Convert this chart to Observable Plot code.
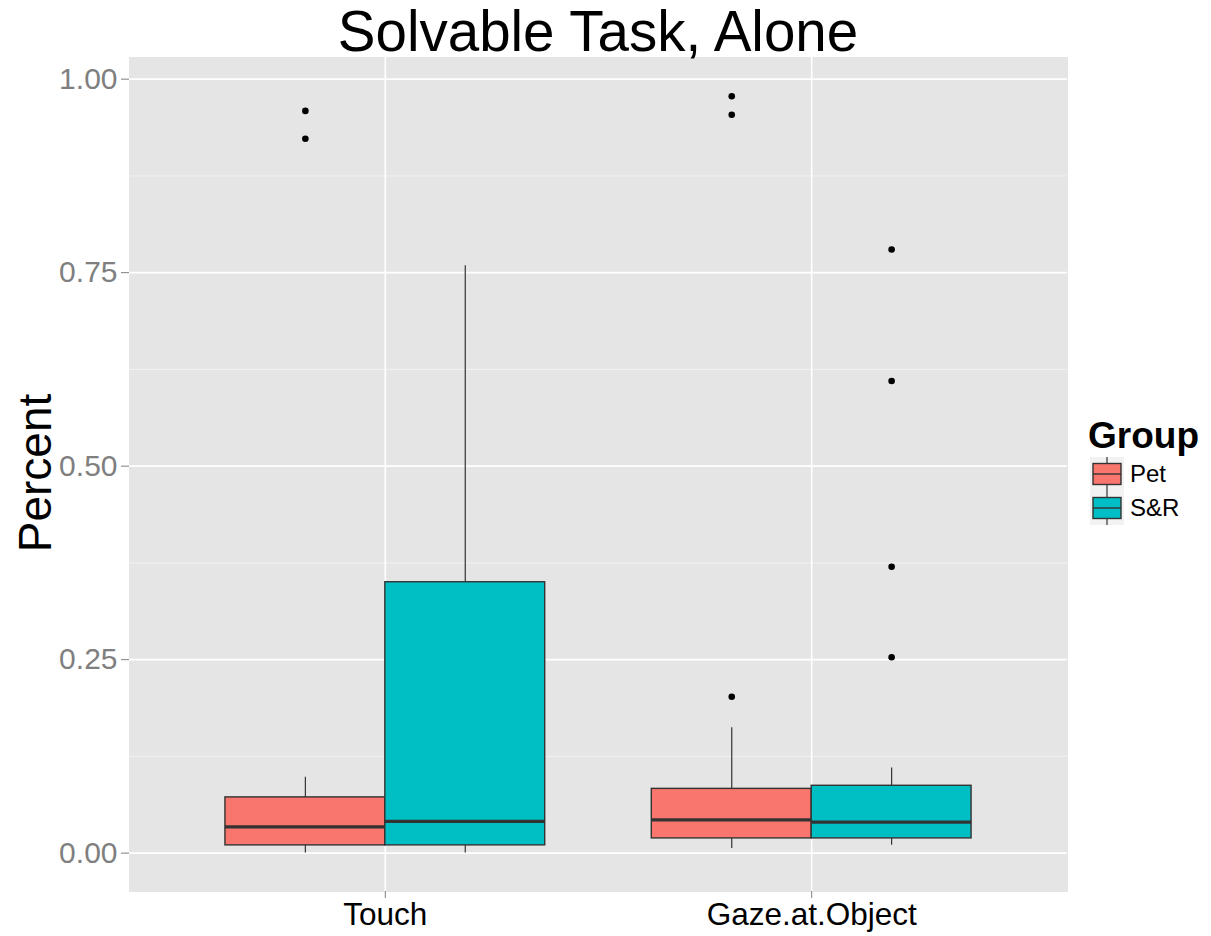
<!DOCTYPE html>
<html>
<head>
<meta charset="utf-8">
<script src="https://cdn.jsdelivr.net/npm/d3@7"></script>
<script src="https://cdn.jsdelivr.net/npm/@observablehq/plot@0.6"></script>
<style>
  html, body { margin: 0; padding: 0; background: white; }
  body { font-family: "Liberation Sans", Arial, Helvetica, sans-serif; }
  #wrap { position: relative; width: 1211px; height: 936px; overflow: hidden; }
  #title { position: absolute; left: 129px; width: 938px; top: 4px; text-align: center;
           font-size: 56.5px; line-height: 1; color: black; white-space: nowrap; z-index: 2; }
  #ylabel { position: absolute; left: 35px; top: 473px; transform: translate(-50%, -50%) rotate(-90deg);
            font-size: 46px; line-height: 1; white-space: nowrap; color: black; z-index: 2; }
  #chart { position: absolute; left: 0; top: 57px; z-index: 1; }
  #legend { position: absolute; left: 1088px; top: 414px; z-index: 2; }
  #legend .ltitle { font-weight: bold; font-size: 37px; line-height: 43px; margin-bottom: 0px; }
  #legend .row { display: flex; align-items: center; height: 34px; margin-left: 2px; }
  #legend .row span { font-size: 24px; margin-left: 6px; }
</style>
</head>
<body>
<div id="wrap">
  <div id="chart"></div>
  <div id="title">Solvable Task, Alone</div>
  <div id="ylabel">Percent</div>
  <div id="legend"></div>
</div>
<script>
// ---- data ----
const categories = ["Touch", "Gaze.at.Object"];
const groups = ["Pet", "S&R"];
const groupColors = ["#F8766D", "#00BFC4"];
// indexed [group][category]
const whiskerLow  = [[0.000, 0.006], [0.000, 0.010]];
const quartile1   = [[0.010, 0.019], [0.010, 0.019]];
const medians     = [[0.034, 0.043], [0.041, 0.040]];
const quartile3   = [[0.072, 0.083], [0.350, 0.087]];
const whiskerHigh = [[0.098, 0.162], [0.759, 0.110]];
const outlierValues = [
  [[0.959, 0.923], [0.202, 0.954, 0.978]],
  [[], [0.253, 0.370, 0.610, 0.780]]
];
const yTicks = [0, 0.25, 0.5, 0.75, 1];
const yMinorTicks = [0.125, 0.375, 0.625, 0.875];

// ---- build tables ----
const dodge = 0.75;              // total dodge width per category
const half = dodge / 4;          // half-width of each box
const boxes = [];
const outliers = [];
groups.forEach((g, gi) => {
  categories.forEach((c, ci) => {
    const xc = (ci + 1) + (gi === 0 ? -half : half);
    boxes.push({
      group: g, category: c, xc, x1: xc - half, x2: xc + half,
      lo: whiskerLow[gi][ci], q1: quartile1[gi][ci], med: medians[gi][ci],
      q3: quartile3[gi][ci], hi: whiskerHigh[gi][ci]
    });
    outlierValues[gi][ci].forEach(v => outliers.push({group: g, category: c, xc, value: v}));
  });
});

const chart = Plot.plot({
  width: 1211,
  height: 879,
  marginLeft: 129,
  marginRight: 144,
  marginTop: 0,
  marginBottom: 45,
  style: { fontFamily: '"Liberation Sans", Arial, Helvetica, sans-serif', background: "white" },
  x: { type: "linear", domain: [0.4, 2.6] },
  y: { domain: [-0.0496, 1.028] },
  color: { domain: groups, range: groupColors },
  marks: [
    Plot.frame({ fill: "#E5E5E5", stroke: "#E5E5E5" }),
    Plot.gridY(yMinorTicks, { stroke: "#F2F2F2", strokeOpacity: 1, strokeWidth: 1 }),
    Plot.gridY(yTicks, { stroke: "white", strokeOpacity: 1, strokeWidth: 1.6 }),
    Plot.gridX([1, 2], { stroke: "white", strokeOpacity: 1, strokeWidth: 1.6 }),
    Plot.axisY(yTicks, {
      tickFormat: d3.format(".2f"), tickSize: 8, tickPadding: 4, fontSize: 30,
      fill: "#7F7F7F", stroke: "#7F7F7F", label: null
    }),
    Plot.axisX([1, 2], {
      tickFormat: d => categories[d - 1], tickSize: 7, tickPadding: 4, fontSize: 31.5,
      fill: "black", stroke: "#7F7F7F", label: null
    }),
    Plot.ruleX(boxes, { x: "xc", y1: "lo", y2: "q1", stroke: "#333333", strokeWidth: 1.2 }),
    Plot.ruleX(boxes, { x: "xc", y1: "q3", y2: "hi", stroke: "#333333", strokeWidth: 1.2 }),
    Plot.rect(boxes, { x1: "x1", x2: "x2", y1: "q1", y2: "q3", fill: "group", stroke: "#333333", strokeWidth: 1.4 }),
    Plot.ruleY(boxes, { x1: "x1", x2: "x2", y: "med", stroke: "#333333", strokeWidth: 3.2 }),
    Plot.dot(outliers, { x: "xc", y: "value", r: 3.3, fill: "black", stroke: "none" })
  ]
});
document.getElementById("chart").appendChild(chart);

// ---- legend ----
const legend = document.getElementById("legend");
const lt = document.createElement("div");
lt.className = "ltitle";
lt.textContent = "Group";
legend.appendChild(lt);
groups.forEach((g, i) => {
  const row = document.createElement("div");
  row.className = "row";
  row.innerHTML =
    `<svg width="34" height="34" viewBox="0 0 34 34">
       <rect x="0" y="0" width="34" height="34" fill="#F2F2F2"/>
       <line x1="17" x2="17" y1="0" y2="34" stroke="#333" stroke-width="1.2"/>
       <rect x="3" y="6.5" width="28" height="21" fill="${groupColors[i]}" stroke="#333" stroke-width="1.4"/>
       <line x1="3" x2="31" y1="17" y2="17" stroke="#333" stroke-width="1.4"/>
     </svg><span>${g}</span>`;
  legend.appendChild(row);
});
</script>
</body>
</html>
